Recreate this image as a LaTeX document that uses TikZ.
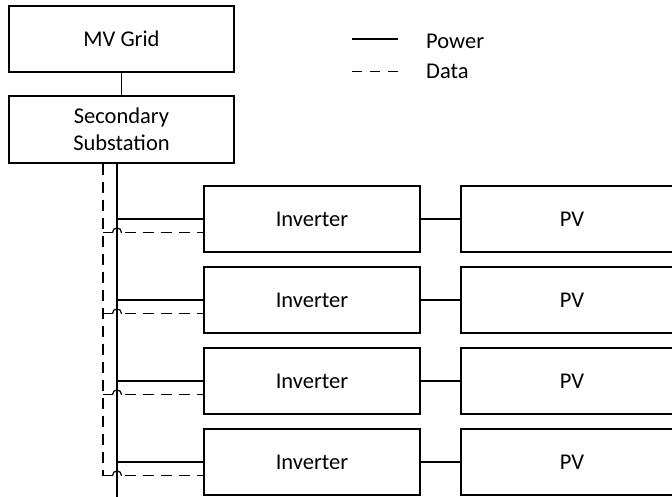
\documentclass[tikz,border=0pt]{standalone}
\usepackage{fontspec}
\setmainfont{Carlito}
\begin{document}
\begin{tikzpicture}[x=1pt,y=-1pt,
  box/.style={draw,line width=1.2pt,rectangle,inner sep=0pt,align=center,font=\fontsize{22.5}{27}\selectfont},
  power/.style={line width=1.2pt},
  data/.style={line width=1.2pt,dash pattern=on 11pt off 7pt},
  hop/.style={line width=1.2pt,line cap=round},
  legtext/.style={anchor=west,inner sep=0pt,font=\fontsize{22.5}{27}\selectfont}]
\useasboundingbox (0,0) rectangle (672,497);
\clip (0,0) rectangle (672,497);
% top boxes
\node[box,minimum width=225pt,minimum height=66pt] (mv) at (121.5,39) {MV Grid};
\node[box,minimum width=225pt,minimum height=67pt] (sub) at (121.5,129.5) {Secondary\\Substation};
\draw[power] (mv.south) -- (sub.north);
% legend
\coordinate (lpa) at (352,39); \coordinate (lpb) at (398,39);
\coordinate (lda) at (352,71.5); \coordinate (ldb) at (398,71.5);
\draw[power] (lpa) -- (lpb);
\draw[line width=1.2pt,dash pattern=on 10pt off 8pt] (lda) -- (ldb);
\node[legtext] (lpower) at (426,41) {Power};
\node[legtext] (ldata) at (426,71) {Data};
% rows
\foreach \i/\y in {1/219,2/300,3/381,4/462}{
  \node[box,minimum width=216pt,minimum height=66pt] (inv\i) at (312,\y) {Inverter};
  \node[box,minimum width=222pt,minimum height=66pt] (pv\i) at (572,\y) {PV};
  \draw[power] (inv\i.east) -- (pv\i.west);
}
% power bus
\coordinate (pb) at (117,500);
\draw[power] (sub.south -| pb) -- (pb);
\foreach \i in {1,2,3,4}{
  \draw[power] (pb |- inv\i.west) -- (inv\i.west);
}
% data bus
\coordinate (db) at (103,475.5);
\draw[data] (sub.south -| db) -- (db);
\foreach \i/\y in {1/232.5,2/313.5,3/394.5,4/475.5}{
  \coordinate (d\i) at (103,\y);
  \coordinate (ha\i) at (112.5,\y);
  \coordinate (hb\i) at (121.5,\y);
  \draw[data] (d\i) -- (ha\i);
  \draw[hop] (ha\i) .. controls +(0,-6) and +(0,-6) .. (hb\i);
  \draw[data,dash phase=15pt] (hb\i) -- (inv\i.west |- d\i);
}
\end{tikzpicture}
\end{document}
